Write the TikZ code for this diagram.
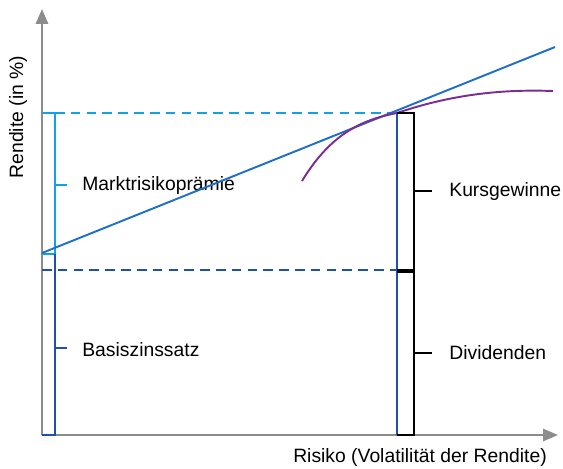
\documentclass[tikz,border=0pt]{standalone}
\usepackage{fontspec}
\setmainfont{Liberation Sans}
\usepackage{xcolor}
\usetikzlibrary{arrows.meta}
\definecolor{axgray}{HTML}{8C8C8C}
\definecolor{lblue}{HTML}{12A0E6}
\definecolor{mblue}{HTML}{1E6FCC}
\definecolor{dblue}{HTML}{1F4FB0}
\definecolor{purp}{HTML}{7D2D91}
\tikzset{
  axis/.style={draw=axgray,line width=1.1pt,-{Triangle[length=8.5pt,width=7pt]}},
  lbl/.style={font=\fontsize{11}{13}\selectfont,inner sep=0pt,anchor=west},
  dsh/.style={line width=1.1pt,dash pattern=on 5.5pt off 3.5pt},
  brk/.style={line width=1.1pt},
}
\begin{document}
\begin{tikzpicture}[x=0.02cm,y=-0.02cm]
\useasboundingbox (0,0) rectangle (563,468);
% axes
\coordinate (o) at (42,435);
\coordinate (ytop) at (42,9);
\coordinate (xend) at (558,435);
\draw[axis] (o) -- (ytop);
\draw[axis] (o) -- (xend);
\node[lbl,anchor=center,rotate=90] (ylab) at (18,117) {Rendite (in \%)};
\node[lbl,anchor=center] (xlab) at (420,457) {Risiko (Volatilität der Rendite)};
% left brackets
\coordinate (mtop) at (55,113);
\coordinate (mbot) at (55,254);
\coordinate (bbot) at (55,435);
\draw[brk,lblue] (42,113) -- (mtop) -- (mbot) -- (42,254);
\draw[brk,dblue] (mbot) -- (bbot) -- (o);
\node[lbl] (mrp) at (82,185) {Marktrisikoprämie};
\node[lbl] (bzs) at (82,350) {Basiszinssatz};
\draw[brk,lblue] (55,185) -- (67,185);
\draw[brk,dblue] (55,348) -- (67,348);
% dashed levels
\coordinate (pt) at (397,113);
\coordinate (rf) at (397,270);
\draw[dsh,lblue] (mtop) -- (pt);
\draw[dsh,dblue] (42,270) -- (rf);
% market line and curve
\coordinate (sml0) at (42,253);
\coordinate (sml1) at (555,47);
\draw[brk,mblue] (sml0) -- (sml1);
\draw[brk,purp] (302,181) .. controls (330,135) and (360,120) .. (pt)
  .. controls (450,95) and (500,89) .. (553,91);
% right bar
\draw[brk,dblue] (pt) -- (397,435);
\draw[brk,black] (pt) -- (414,113) -- (414,435) -- (397,435);
\draw[line width=2.2pt,black] (397,271) -- (414,271);
\node[lbl] (kg) at (449,191) {Kursgewinne};
\node[lbl] (div) at (449,353) {Dividenden};
\draw[brk,black] (414,191) -- (432,191);
\draw[brk,black] (414,353) -- (432,353);
\end{tikzpicture}
\end{document}
